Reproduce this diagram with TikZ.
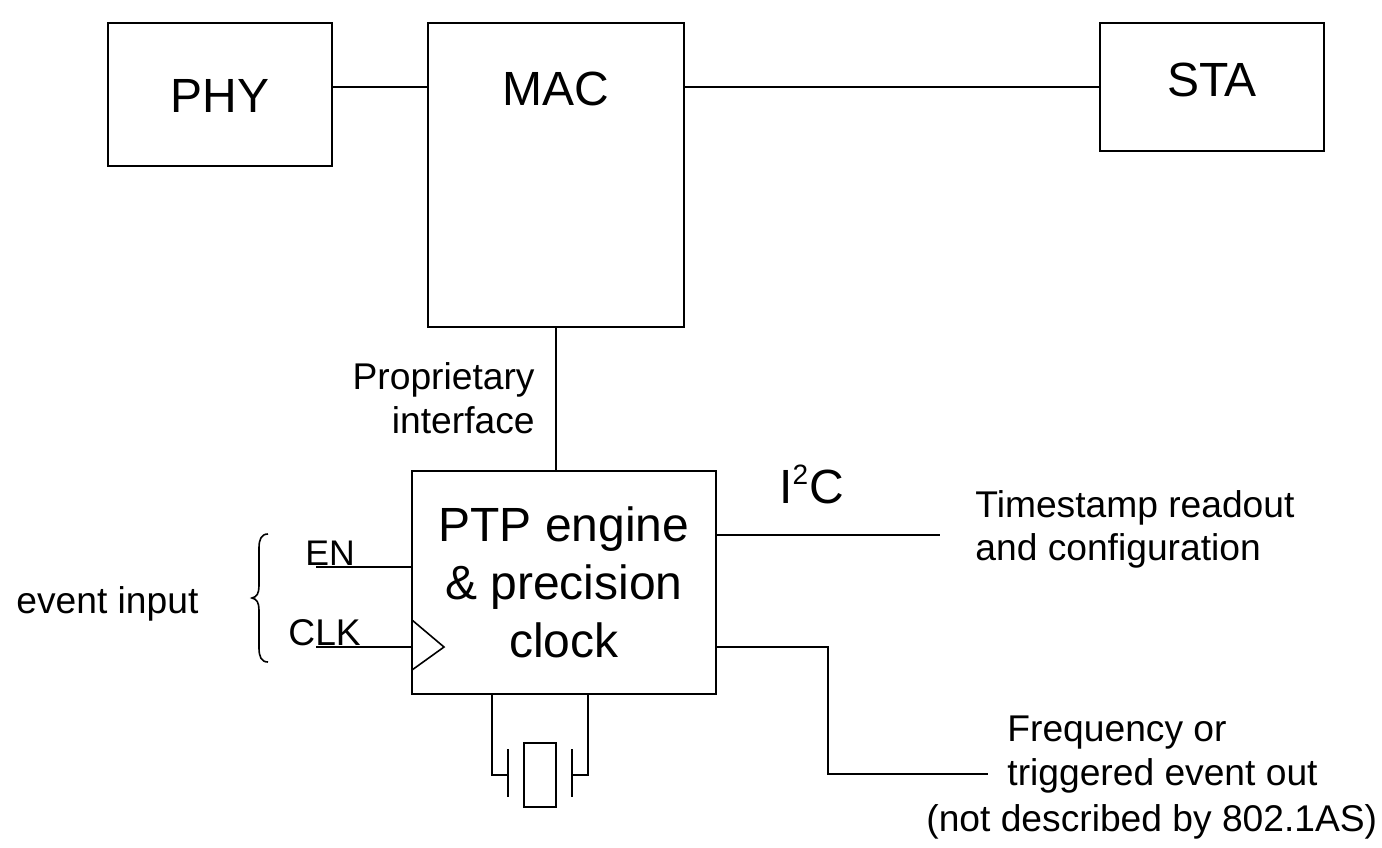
\documentclass[tikz,border=0pt]{standalone}
\usepackage{fontspec}
\setmainfont{Liberation Sans}
\newcommand{\fss}[2]{\fontsize{#1}{#2}\selectfont}
\tikzset{
  x=0.5pt,y=-0.5pt,
  blockbox/.style={draw=black,line width=1pt,fill=white,inner sep=0pt,outer sep=0pt,anchor=north west},
  wire/.style={draw=black,line width=1pt},
  thinwire/.style={draw=black,line width=0.8pt},
  big/.style={inner sep=0pt,font=\fss{24}{29}},
  label/.style={inner sep=0pt,anchor=base west,font=\fss{18.6}{21.5}},
}
\begin{document}
\begin{tikzpicture}
\useasboundingbox (0,0) rectangle (1382,847);
\node[blockbox,minimum width=112pt,minimum height=71.5pt] (phy) at (108,23) {};
\node[blockbox,minimum width=128pt,minimum height=152pt] (mac) at (428,23) {};
\node[blockbox,minimum width=112pt,minimum height=64pt] (sta) at (1100,23) {};
\node[blockbox,minimum width=152pt,minimum height=111.5pt] (ptp) at (412,471) {};
\node[big] (phyt) at (220,96) {PHY};
\node[big] (mact) at (556,89) {MAC};
\node[big] (stat) at (1212,79.5) {STA};
\node[big,align=center] (ptpt) at (564,582) {PTP engine\\\& precision\\clock};
\node[big,anchor=base west] (i2c) at (779,503) {I\textsuperscript{\fss{14}{14}2}C};
\node[label,anchor=base east] (prop) at (535,389) {Proprietary};
\node[label,anchor=base east] (intf) at (535,433) {interface};
\node[label] (ts) at (975,517) {Timestamp readout};
\node[label] (cfg) at (975,560) {and configuration};
\node[label] (freq) at (1007,741) {Frequency or};
\node[label] (trig) at (1007,785) {triggered event out};
\node[label] (nd) at (926,831) {(not described by 802.1AS)};
\node[label] (ev) at (16,613) {event input};
\node[label,font=\fss{17.8}{21.5}] (en) at (305,565) {EN};
\node[label] (clk) at (288,645) {CLK};
\coordinate (i2cend) at (940,535);
\coordinate (enstart) at (316,567);
\coordinate (clkstart) at (316,647);
\coordinate (fb) at (828,647);
\coordinate (fe) at (988,774);
\draw[wire] (phy.east |- 0,87) -- (mac.west |- 0,87);
\draw[wire] (mac.east |- 0,87) -- (sta.west |- 0,87);
\draw[wire] (mac.south -| 556,0) -- (ptp.north -| 556,0);
\draw[wire] (ptp.east |- i2cend) -- (i2cend);
\draw[wire] (ptp.east |- fb) -- (fb) |- (fe);
\draw[wire] (enstart) -- (ptp.west |- enstart);
\draw[wire] (clkstart) -- (ptp.west |- clkstart);
\draw[thinwire] (ptp.west |- 0,620) -- (444,647) -- (ptp.west |- 0,670);
\node[blockbox,minimum width=16pt,minimum height=32pt] (xtal) at (524,743) {};
\coordinate (pl) at (508,775);
\coordinate (pr) at (572,775);
\draw[wire] (ptp.south -| 492,0) -- (492,775) -- (pl);
\draw[wire] (ptp.south -| 588,0) -- (588,775) -- (pr);
\draw[wire] (508,749) -- (508,797);
\draw[wire] (572,749) -- (572,797);
\draw[thinwire] (268,534) .. controls (261,534) and (259,540) .. (259,548) -- (259,586) .. controls (259,593) and (257,597) .. (252,598) .. controls (257,599) and (259,603) .. (259,610) -- (259,648) .. controls (259,656) and (261,662) .. (268,662);
\end{tikzpicture}
\end{document}
